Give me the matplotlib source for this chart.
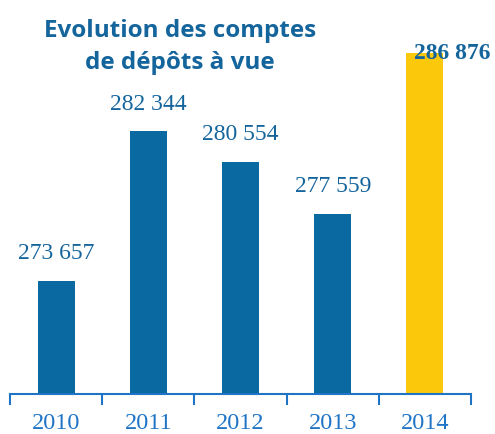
import numpy as np
import matplotlib.pyplot as plt

years = ['2010', '2011', '2012', '2013', '2014']
values = [273657, 282344, 280554, 277559, 286876]
labels = ['273 657', '282 344', '280 554', '277 559', '286 876']

blue = '#0a69a1'
yellow = '#fcc80c'
text_blue = '#15659d'
axis_blue = '#1f74c6'

fig = plt.figure(figsize=(4.95, 4.34), dpi=100)
# axes: x from 10px to 471px, bottom at 394px, top at figure top
ax = fig.add_axes([10 / 495, 40 / 434, 461 / 495, 394 / 434])

x = np.arange(len(years))
colors = [blue] * 4 + [yellow]
ax.bar(x, values, width=0.4, color=colors, zorder=2)

ax.set_xlim(-0.5, 4.5)
ax.set_ylim(267100, 267100 + 394 * 58)

for s in ['top', 'right', 'left']:
    ax.spines[s].set_visible(False)
ax.spines['bottom'].set_color(axis_blue)
ax.spines['bottom'].set_linewidth(1.5)
ax.set_yticks([])

ax.set_xticks(np.arange(-0.5, 5, 1))
ax.set_xticklabels([])
ax.tick_params(axis='x', length=8, width=1.5, color=axis_blue, direction='out')
for i, yr in enumerate(years):
    ax.annotate(yr, (i, 0), xycoords=('data', 'axes fraction'),
                xytext=(0, -14), textcoords='offset points',
                ha='center', va='top', fontsize=17.5,
                family='Liberation Serif', color=axis_blue)

for i, (v, lab) in enumerate(zip(values, labels)):
    if i == 4:
        ax.annotate(lab, (i, v), xytext=(20, 0), textcoords='offset points',
                    ha='center', va='center', fontsize=17, fontweight='bold',
                    family='Liberation Serif', color=text_blue)
    else:
        ax.annotate(lab, (i, v), xytext=(0, 12), textcoords='offset points',
                    ha='center', va='bottom', fontsize=17,
                    family='Liberation Serif', color=text_blue)

fig.text(180 / 495, 1 - 47 / 434, 'Evolution des comptes\nde dépôts à vue',
         ha='center', va='center', fontsize=17.5, fontweight='bold',
         family='Open Sans', color=text_blue, linespacing=1.4)

fig.savefig('out.png', dpi=100)
